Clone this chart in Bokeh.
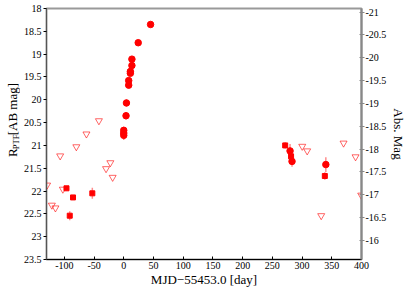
import math
from bokeh.plotting import figure
from bokeh.layouts import row
from bokeh.models import Range1d, LinearAxis, FixedTicker, CustomJSTickFormatter
from bokeh.core.properties import value
from bokeh.embed import file_html
from bokeh.resources import INLINE

# ---- data ----
DM = 39.08  # distance modulus used for the right-hand axis

circ_day = [45.1, 24.3, 13.7, 13.7, 11.1, 11.1, 8.3, 8.3, 4.5, 3.8, 0.0, 0.0, 0.0, 279.8, 283.1, 340.0]
circ_mag = [18.35, 18.75, 19.11, 19.25, 19.38, 19.42, 19.58, 19.68, 20.07, 20.35, 20.67, 20.73, 20.78, 21.12, 21.35, 21.42]
circ_err = [0.02, 0.02, 0.03, 0.03, 0.03, 0.03, 0.04, 0.04, 0.08, 0.08, 0.08, 0.06, 0.10, 0.15, 0.12, 0.16]

sq_day = [-96.4, -85.4, -90.9, -52.9, 271.6, 281.5, 338.3]
sq_mag = [21.94, 22.14, 22.54, 22.05, 21.00, 21.24, 21.67]
sq_err = [0.05, 0.05, 0.10, 0.12, 0.07, 0.06, 0.08]

lim_day = [-41.8, -62.8, -79.8, -107.0, -22.6, -29.8, -18.7, -129.0, -102.5, -121.0, -115.0,
           300.3, 308.6, 369.8, 390.0, 399.5, 332.2]
lim_mag = [20.46, 20.75, 21.03, 21.23, 21.38, 21.51, 21.70, 21.87, 21.96, 22.31, 22.37,
           21.02, 21.12, 20.95, 21.25, 22.09, 22.54]

x_ticks = [-100, -50, 0, 50, 100, 150, 200, 250, 300, 350, 400]
y_ticks = [18, 18.5, 19, 19.5, 20, 20.5, 21, 21.5, 22, 22.5, 23, 23.5]
abs_ticks = [-21, -20.5, -20, -19.5, -19, -18.5, -18, -17.5, -17, -16.5, -16]

y_title_parts = ["R", "PTF", "[AB mag]"]
x_title = "MJD\u221255453.0 [day]"
y2_title = "Abs. Mag"

X0, X1 = -130, 400
Y0, Y1 = 23.5, 18
FONT = "Times New Roman"
H = 289
LW = 20  # width of the strip that carries the left title

# ---- main plot ----
p = figure(width=409 - LW, height=H, output_backend="svg", toolbar_location=None,
           x_range=Range1d(X0, X1), y_range=Range1d(Y0, Y1),
           min_border_left=45 - LW, min_border_right=43, min_border_top=8, min_border_bottom=28)
p.xgrid.visible = False
p.ygrid.visible = False
p.background_fill_color = "white"
p.border_fill_color = "white"
p.outline_line_color = "#999999"
p.outline_line_width = 2

fmt = CustomJSTickFormatter(code="return tick.toString();")

xa = p.xaxis[0]
xa.ticker = FixedTicker(ticks=x_ticks)
xa.formatter = fmt
xa.axis_line_color = "black"
xa.major_tick_in = 3
xa.major_tick_out = 0
xa.minor_tick_line_color = None
xa.major_label_standoff = 2
xa.major_label_text_font = FONT
xa.major_label_text_font_size = "10px"
xa.major_label_text_color = "black"
xa.axis_label = x_title
xa.axis_label_text_font = FONT
xa.axis_label_text_font_style = "normal"
xa.axis_label_text_font_size = "13px"
xa.axis_label_text_color = "black"
xa.axis_label_standoff = 0

ya = p.yaxis[0]
ya.ticker = FixedTicker(ticks=y_ticks)
ya.formatter = fmt
ya.axis_line_color = "#555555"
ya.major_tick_in = 0
ya.major_tick_out = 3
ya.minor_tick_line_color = None
ya.major_label_standoff = 2
ya.major_label_text_font = FONT
ya.major_label_text_font_size = "10px"
ya.major_label_text_color = "black"

p.extra_y_ranges = {"abs": Range1d(Y0 - DM, Y1 - DM)}
ra = LinearAxis(y_range_name="abs")
ra.ticker = FixedTicker(ticks=abs_ticks)
ra.formatter = fmt
ra.axis_line_color = "#888888"
ra.axis_line_width = 2
ra.major_tick_line_color = "#888888"
ra.major_tick_in = 2
ra.major_tick_out = 3
ra.minor_tick_line_color = None
ra.major_label_standoff = 1
ra.major_label_text_font = FONT
ra.major_label_text_font_size = "10px"
ra.major_label_text_color = "black"
ra.axis_label = y2_title
ra.axis_label_text_font = FONT
ra.axis_label_text_font_style = "normal"
ra.axis_label_text_font_size = "13px"
ra.axis_label_text_color = "black"
ra.axis_label_standoff = 2
p.add_layout(ra, "right")

# error bars
p.segment(x0=circ_day, y0=[m - e for m, e in zip(circ_mag, circ_err)],
          x1=circ_day, y1=[m + e for m, e in zip(circ_mag, circ_err)],
          line_color="red", line_alpha=0.45, line_width=1.5)
p.segment(x0=sq_day, y0=[m - e for m, e in zip(sq_mag, sq_err)],
          x1=sq_day, y1=[m + e for m, e in zip(sq_mag, sq_err)],
          line_color="red", line_alpha=0.45, line_width=1.5)

# upper limits (open, downward triangles)
p.scatter(lim_day, lim_mag, marker="inverted_triangle", size=7,
          fill_color=None, line_color="red", line_alpha=0.6, line_width=1)
# detections
p.scatter(sq_day, sq_mag, marker="square", size=5, fill_color="red", line_color="red")
p.scatter(circ_day, circ_mag, marker="circle", size=6.5, fill_color="red", line_color="red")

# ---- strip with the rotated left title (R with subscript PTF) ----
t = figure(width=LW, height=H, output_backend="svg", toolbar_location=None,
           x_range=Range1d(0, LW), y_range=Range1d(0, H),
           min_border=0, outline_line_color=None)
t.axis.visible = False
t.xgrid.visible = False
t.ygrid.visible = False
t.border_fill_color = "white"
t.background_fill_color = "white"
# positions in page pixels (x from left, y from top)
t.text(x=[11.5], y=[H - 171], text=[y_title_parts[0]], angle=math.pi / 2,
       text_font=value(FONT), text_font_size="13px", text_color="black",
       text_align="left", text_baseline="middle")
t.text(x=[15.5], y=[H - 162], text=[y_title_parts[1]], angle=math.pi / 2,
       text_font=value(FONT), text_font_size="8.5px", text_color="black",
       text_align="left", text_baseline="middle")
t.text(x=[11.5], y=[H - 146], text=[y_title_parts[2]], angle=math.pi / 2,
       text_font=value(FONT), text_font_size="13px", text_color="black",
       text_align="left", text_baseline="middle")

layout = row(t, p)
open("out.html", "w").write(file_html(layout, INLINE))
